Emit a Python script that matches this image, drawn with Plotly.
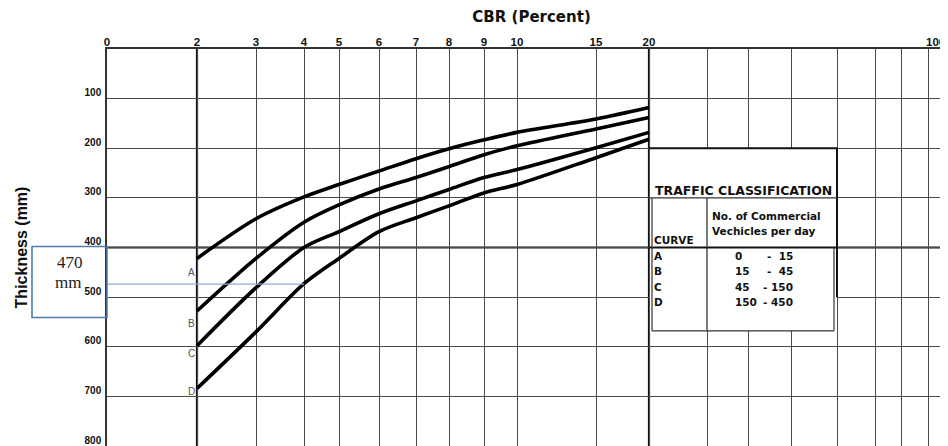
import numpy as np
import plotly.graph_objects as go

# ---- chart data -------------------------------------------------------
CBR_TICKS = [0, 2, 3, 4, 5, 6, 7, 8, 9, 10, 15, 20, 30, 40, 50, 60, 70, 80, 90, 100]
CBR_TICK_LABELS = ["0", "2", "3", "4", "5", "6", "7", "8", "9", "10", "15", "20",
                   "", "", "", "", "", "", "", ""]
CBR_END_LABEL = "100"
THICK_TICKS = [100, 200, 300, 400, 500, 600, 700, 800]

CURVE_CBR = [2, 3, 4, 5, 6, 7, 8, 9, 10, 15, 20]
CURVE_A = [422, 342, 298, 273, 246, 221, 201, 183, 168, 141, 118]
CURVE_B = [528, 422, 349, 314, 282, 259, 237, 213, 195, 161, 138]
CURVE_C = [598, 481, 400, 368, 332, 306, 283, 259, 243, 199, 168]
CURVE_D = [684, 570, 473, 422, 368, 340, 316, 290, 273, 219, 182]
CURVE_NAMES = ["A", "B", "C", "D"]

TRAFFIC_LOW = ["0", "15", "45", "150"]
TRAFFIC_HIGH = ["15", "45", "150", "450"]
DESIGN_CBR = 4
DESIGN_THICKNESS = 474

# ---- nonuniform CBR scale of the printed chart (axis calibration) ------
AXIS_POS = [0, 90, 149, 197, 232, 272, 309, 342, 377, 410, 489, 542,
            600, 641, 684, 730, 768, 794, 821, 839]


def cx(v):
    return np.interp(v, CBR_TICKS, AXIS_POS)


fig = go.Figure()
for name, vals in zip(CURVE_NAMES, [CURVE_A, CURVE_B, CURVE_C, CURVE_D]):
    fig.add_trace(go.Scatter(
        x=cx(CURVE_CBR), y=vals, mode="lines", name=name,
        line=dict(color="black", width=3.6, shape="spline", smoothing=0.9),
        showlegend=False, hoverinfo="skip"))

GRID = "#4a4a4a"
WIDE = "DejaVu Sans, Verdana, sans-serif"
fig.update_layout(
    width=940, height=438,
    margin=dict(l=99, r=2, t=41, b=0),
    paper_bgcolor="white", plot_bgcolor="white",
    font=dict(family="Liberation Sans, Arial, sans-serif", color="#111"),
    title=dict(text="<b>CBR (Percent)</b>", x=0.506, xref="paper", xanchor="center",
               y=1 - 9 / 438, yanchor="middle",
               font=dict(size=15, color="#111", family=WIDE)),
    xaxis=dict(side="top", range=[0, 839], tickvals=AXIS_POS, ticktext=CBR_TICK_LABELS,
               showgrid=True, gridcolor=GRID, gridwidth=1.3, zeroline=False,
               showline=True, linecolor="#333", linewidth=1.5, ticks="",
               ticklabelstandoff=-3,
               tickfont=dict(size=11.5, color="#111", family="Liberation Sans", weight="bold"),
               automargin=False, fixedrange=True),
    yaxis=dict(range=[800, 0], tickvals=THICK_TICKS, ticktext=[str(v) for v in THICK_TICKS],
               showgrid=True, gridcolor=GRID, gridwidth=1.3, zeroline=False,
               showline=True, linecolor="#333", linewidth=1.5, ticks="",
               ticklabelshift=6, ticklabelstandoff=2,
               tickfont=dict(size=10, color="#111", family="Liberation Sans", weight="bold"),
               title=dict(text="<b>Thickness (mm)</b>", standoff=53,
                          font=dict(size=16, color="#111")),
               automargin=False, fixedrange=True),
)

# end-of-scale label (kept inside the page)
fig.add_annotation(x=1.001, y=1, xref="paper", yref="paper", text=f"<b>{CBR_END_LABEL}</b>",
                   showarrow=False, xanchor="right", yanchor="bottom", yshift=-1,
                   font=dict(size=11.5, color="#111", family="Liberation Sans"))

# heavy grid lines at CBR 2, CBR 20 and 400 mm
for v in (2, 20):
    fig.add_shape(type="line", xref="x", yref="paper", x0=cx(v), x1=cx(v), y0=0, y1=1,
                  line=dict(color="#111", width=2.2), layer="below")
fig.add_shape(type="line", xref="paper", yref="y", x0=0, x1=1, y0=400, y1=400,
              line=dict(color="#111", width=2.2), layer="below")

# curve letters
for name, ty in zip(CURVE_NAMES, [451, 553, 613, 690]):
    fig.add_annotation(x=cx(2) - 6, y=ty, xref="x", yref="y", text=name, showarrow=False,
                       font=dict(size=10, color="#555"), xanchor="center", yanchor="middle")

# ---- traffic classification table ----
xl, xr = cx(20), 730
fig.add_shape(type="rect", xref="x", yref="y", x0=xl + 1, x1=xr, y0=200, y1=568,
              fillcolor="white", line=dict(width=0), layer="above")
fig.add_shape(type="line", xref="x", yref="y", x0=xl, x1=xr + 1, y0=200, y1=200,
              line=dict(color="#111", width=2), layer="above")
fig.add_shape(type="line", xref="x", yref="y", x0=xr, x1=xr, y0=200, y1=500,
              line=dict(color="#111", width=2), layer="above")
fig.add_shape(type="line", xref="x", yref="y", x0=xl, x1=xr, y0=300, y1=300,
              line=dict(color="#333", width=1.3), layer="above")
fig.add_shape(type="line", xref="x", yref="y", x0=xl, x1=xr, y0=400, y1=400,
              line=dict(color="#111", width=2), layer="above")
fig.add_shape(type="line", xref="x", yref="y", x0=xl + 3, x1=xl + 3, y0=300, y1=568,
              line=dict(color="#333", width=1.2), layer="above")
fig.add_shape(type="line", xref="x", yref="y", x0=xl + 3, x1=xr - 3, y0=568, y1=568,
              line=dict(color="#333", width=1.2), layer="above")
fig.add_shape(type="line", xref="x", yref="y", x0=xr - 3, x1=xr - 3, y0=400, y1=568,
              line=dict(color="#333", width=1.2), layer="above")
fig.add_shape(type="line", xref="x", yref="y", x0=cx(30), x1=cx(30), y0=300, y1=568,
              line=dict(color="#333", width=1.3), layer="above")

fig.add_annotation(x=(xl + xr) / 2, y=285, xref="x", yref="y", showarrow=False,
                   text="<b>TRAFFIC CLASSIFICATION</b>",
                   font=dict(size=12.5, color="#111", family=WIDE),
                   xanchor="center", yanchor="middle")
fig.add_annotation(x=603, y=336, xref="x", yref="y", showarrow=False,
                   text="<b>No. of Commercial</b>", font=dict(size=10.5, color="#111", family=WIDE),
                   xanchor="left", yanchor="middle")
fig.add_annotation(x=603, y=366, xref="x", yref="y", showarrow=False,
                   text="<b>Vechicles per day</b>", font=dict(size=10.5, color="#111", family=WIDE),
                   xanchor="left", yanchor="middle")
fig.add_annotation(x=545, y=385, xref="x", yref="y", showarrow=False,
                   text="<b>CURVE</b>", font=dict(size=10.5, color="#111", family=WIDE),
                   xanchor="left", yanchor="middle")
for i, (name, lo, hi) in enumerate(zip(CURVE_NAMES, TRAFFIC_LOW, TRAFFIC_HIGH)):
    ty = 417 + i * 31
    fig.add_annotation(x=545, y=ty, xref="x", yref="y", showarrow=False,
                       text=f"<b>{name}</b>", font=dict(size=10.5, color="#111", family=WIDE),
                       xanchor="left", yanchor="middle")
    fig.add_annotation(x=626, y=ty, xref="x", yref="y", showarrow=False,
                       text=f"<b>{lo}</b>", font=dict(size=10.5, color="#111", family=WIDE),
                       xanchor="left", yanchor="middle")
    fig.add_annotation(x=688, y=ty, xref="x", yref="y", showarrow=False,
                       text=f"<b>-&nbsp;&nbsp;{hi}</b>" if len(hi) == 2 else f"<b>- {hi}</b>",
                       font=dict(size=10.5, color="#111", family=WIDE),
                       xanchor="right", yanchor="middle")

# ---- design thickness callout ----
fig.add_shape(type="line", xref="x", yref="y", x0=0, x1=cx(DESIGN_CBR),
              y0=DESIGN_THICKNESS, y1=DESIGN_THICKNESS,
              line=dict(color="#8eaed3", width=1.3), layer="above")
fig.add_shape(type="rect", xref="paper", yref="y", x0=-75 / 839, x1=0, y0=398, y1=541,
              line=dict(color="#4f7cac", width=1.6), fillcolor="rgba(0,0,0,0)", layer="above")
fig.add_annotation(x=-37 / 839, y=431, xref="paper", yref="y", showarrow=False,
                   text="470", font=dict(size=17, family="Liberation Serif, serif", color="#222"),
                   xanchor="center", yanchor="middle")
fig.add_annotation(x=-39 / 839, y=471, xref="paper", yref="y", showarrow=False,
                   text="mm", font=dict(size=17, family="Liberation Serif, serif", color="#222"),
                   xanchor="center", yanchor="middle")

fig.write_html("out.html")
